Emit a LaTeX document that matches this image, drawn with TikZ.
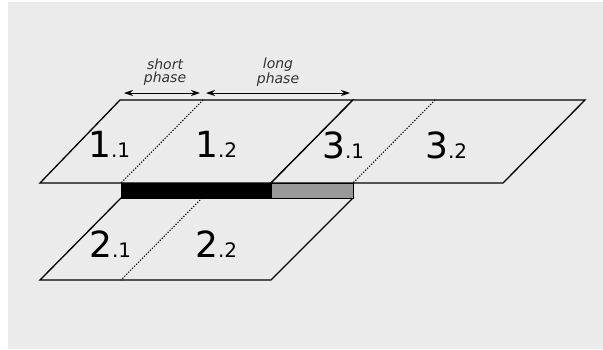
\documentclass[tikz,border=0pt]{standalone}
\usepackage{fontspec}
\setmainfont{DejaVu Sans}
\usetikzlibrary{arrows.meta}
\definecolor{paper}{HTML}{EBEBEB}
\definecolor{gapgray}{HTML}{999999}
\tikzset{
  slab/.style={draw, line width=1.3pt, fill=paper, line join=miter},
  split/.style={line width=1.1pt, dash pattern=on 1.2pt off 1.6pt},
  span/.style={line width=1pt, {Stealth[length=9pt,width=6pt]}-{Stealth[length=9pt,width=6pt]}},
  phaselabel/.style={font=\fontsize{14}{12.5}\selectfont\itshape, align=center, inner sep=0pt, text=black!80},
  part/.style={anchor=base west, inner sep=0pt}
}
\newcommand{\partno}[2]{{\fontsize{36}{36}\selectfont #1}{\fontsize{20}{20}\selectfont .#2}}
\begin{document}
\begin{tikzpicture}[x=1pt,y=-1pt]
  \useasboundingbox (0,0) rectangle (603,349);
  \fill[white] (0,0) rectangle (603,349);
  \fill[paper] (8,2) rectangle (603,349);

  % corners of the three slabs
  \coordinate (a1) at (40,183);
  \coordinate (b1) at (120,100);
  \coordinate (c1) at (353,100);
  \coordinate (d1) at (271,183);
  \coordinate (c3) at (585,100);
  \coordinate (d3) at (503,183);
  \coordinate (a2) at (40,280);
  \coordinate (b2) at (121,198);
  \coordinate (c2) at (353,198);
  \coordinate (d2) at (271,280);

  % slabs
  \draw[slab] (a1) -- (b1) -- (c1) -- (d1) -- cycle;
  \draw[slab] (d1) -- (c1) -- (c3) -- (d3) -- cycle;
  \draw[slab] (a2) -- (b2) -- (c2) -- (d2) -- cycle;

  % bar between the rows
  \draw[fill=black, line width=0.8pt] (121,183) rectangle (271,198);
  \draw[fill=gapgray, line width=0.8pt] (271,183) rectangle (353,198);

  % dotted splits
  \draw[split] (203,100) -- (121,183);
  \draw[split] (435,100) -- (353,183);
  \draw[split] (202,198) -- (121,280);

  % labels in the slabs
  \node[part] (p11) at (88,157) {\partno{1}{1}};
  \node[part] (p12) at (195,157) {\partno{1}{2}};
  \node[part] (p31) at (322,158) {\partno{3}{1}};
  \node[part] (p32) at (425,158) {\partno{3}{2}};
  \node[part] (p21) at (89,257) {\partno{2}{1}};
  \node[part] (p22) at (195,257) {\partno{2}{2}};

  % phase spans
  \coordinate (s0) at (124,93);
  \coordinate (s1) at (200,93);
  \coordinate (l0) at (206,93);
  \coordinate (l1) at (350,93);
  \draw[span] (s0) -- (s1);
  \draw[span] (l0) -- (l1);
  \node[phaselabel] (short) at (165,72) {short\\phase};
  \node[phaselabel] (long) at (278,72) {long\\phase};
\end{tikzpicture}
\end{document}
